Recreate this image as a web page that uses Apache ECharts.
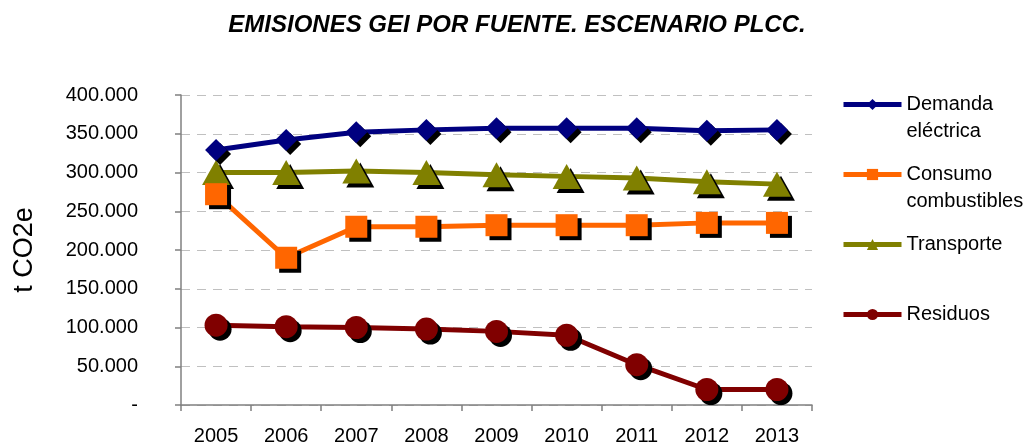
<!DOCTYPE html>
<html>
<head>
<meta charset="utf-8">
<script src="https://cdn.jsdelivr.net/npm/echarts@6/dist/echarts.min.js"></script>
<style>
  html, body { margin: 0; padding: 0; background: #fff; }
  #chart { width: 1032px; height: 446px; }
</style>
</head>
<body>
<div id="chart"></div>
<script>
// años
const years = ["2005", "2006", "2007", "2008", "2009", "2010", "2011", "2012", "2013"];
// emisiones t CO2e por fuente
const demanda = [329000, 342000, 352000, 355000, 357000, 357000, 357000, 354000, 355000];
const consumo = [272000, 190000, 230000, 230000, 232000, 232000, 232000, 235000, 235000];
const transporte = [300000, 300000, 302000, 300000, 297000, 295000, 293000, 288000, 285000];
const residuos = [103000, 101000, 100000, 98000, 95000, 90000, 52000, 20000, 20000];

const names = ["Demanda\neléctrica", "Consumo\ncombustibles", "Transporte", "Residuos"];
const colors = ["#000080", "#ff6600", "#808000", "#800000"];
const font = "Liberation Sans, Arial, sans-serif";

function fmt(v) {
  if (v === 0) return "-";
  return String(v).replace(/\B(?=(\d{3})+(?!\d))/g, ".");
}

// sombra negra de los marcadores
const shadow = { shadowColor: "#000", shadowBlur: 0, shadowOffsetX: 4, shadowOffsetY: 4 };

function serie(i, data, symbol, size) {
  return {
    name: names[i],
    type: "line",
    data: data,
    symbol: symbol,
    symbolSize: size,
    showAllSymbol: true,
    lineStyle: { color: colors[i], width: 5 },
    itemStyle: Object.assign({ color: colors[i] }, shadow),
    z: 10 - i
  };
}

// una leyenda por serie, colocada a mano
// (línea vacía delante para que la primera línea quede a la altura del icono)
const legendTops = [64, 134, 231, 301];
const legends = names.map((n, i) => ({
  data: [n],
  orient: "vertical",
  left: 841,
  top: legendTops[i],
  padding: 0,
  itemWidth: 58,
  itemHeight: 14,
  itemGap: 0,
  formatter: name => (name.indexOf("\n") >= 0 ? "\n" + name : name),
  itemStyle: { shadowBlur: 0, shadowOffsetX: 0, shadowOffsetY: 0, shadowColor: "transparent" },
  lineStyle: { width: 5 },
  textStyle: { fontFamily: font, fontSize: 20, color: "#000", lineHeight: 27 }
}));

const chart = echarts.init(document.getElementById("chart"), null, { renderer: "canvas" });
chart.setOption({
  animation: false,
  backgroundColor: "#fff",
  title: {
    text: "EMISIONES GEI POR FUENTE. ESCENARIO PLCC.",
    left: 512,
    textAlign: "center",
    top: 8,
    textStyle: { fontFamily: font, fontSize: 24, fontWeight: "bold", fontStyle: "italic", color: "#000" }
  },
  legend: legends,
  grid: { left: 181, right: 220, top: 95, bottom: 40 },
  xAxis: {
    type: "category",
    data: years,
    boundaryGap: true,
    axisLine: { lineStyle: { color: "#808080", width: 1.5 } },
    axisTick: { show: true, length: 6, lineStyle: { color: "#808080", width: 1.5 } },
    axisLabel: { fontFamily: font, fontSize: 20, color: "#000", margin: 21 }
  },
  yAxis: {
    type: "value",
    min: 0,
    max: 400000,
    interval: 50000,
    name: "t CO2e",
    nameLocation: "middle",
    nameGap: 143,
    nameTextStyle: { fontFamily: font, fontSize: 27, color: "#000" },
    axisLine: { show: true, lineStyle: { color: "#808080", width: 1.5 } },
    axisTick: { show: true, length: 6, lineStyle: { color: "#808080", width: 1.5 } },
    axisLabel: { fontFamily: font, fontSize: 20, color: "#000", margin: 43, formatter: fmt },
    splitLine: { lineStyle: { color: "#c0c0c0", type: [9, 7], width: 1 } }
  },
  series: [
    serie(0, demanda, "diamond", 22),
    serie(1, consumo, "rect", 22),
    serie(2, transporte, "triangle", [28, 25]),
    serie(3, residuos, "circle", 23)
  ]
});
</script>
</body>
</html>
